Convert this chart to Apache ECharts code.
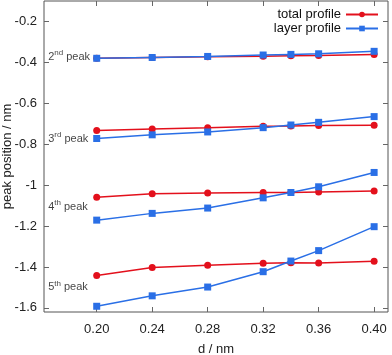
<!DOCTYPE html>
<html>
<head>
<meta charset="utf-8">
<title>peak position</title>
<script src="https://cdn.jsdelivr.net/npm/echarts@6/dist/echarts.min.js"></script>
<style>
  html, body { margin: 0; padding: 0; background: #fff; }
</style>
</head>
<body>
<div id="main" style="width: 392px; height: 355px;"></div>
<script type="text/javascript">
// data
var dValues = [0.20, 0.24, 0.28, 0.32, 0.34, 0.36, 0.40];
var xTicks = [0.20, 0.24, 0.28, 0.32, 0.36, 0.40];
var yTicks = [-1.6, -1.4, -1.2, -1.0, -0.8, -0.6, -0.4, -0.2];

var total2 = [-0.380, -0.376, -0.372, -0.370, -0.368, -0.366, -0.362];
var layer2 = [-0.380, -0.376, -0.371, -0.364, -0.361, -0.358, -0.346];
var total3 = [-0.733, -0.725, -0.719, -0.712, -0.711, -0.709, -0.707];
var layer3 = [-0.772, -0.754, -0.740, -0.719, -0.706, -0.693, -0.665];
var total4 = [-1.059, -1.042, -1.039, -1.036, -1.036, -1.033, -1.029];
var layer4 = [-1.171, -1.138, -1.112, -1.062, -1.036, -1.008, -0.938];
var total5 = [-1.442, -1.403, -1.392, -1.382, -1.379, -1.380, -1.372];
var layer5 = [-1.592, -1.541, -1.498, -1.423, -1.371, -1.320, -1.203];

var peakNames = ['2', '3', '4', '5'];
var peakSups = ['nd', 'rd', 'th', 'th'];
var peakLabelY = [-0.372, -0.773, -1.106, -1.500];

var RED = '#e3101c';
var BLUE = '#2a6fe6';

function pairs(ys) {
  var out = [];
  for (var i = 0; i < dValues.length; i++) out.push([dValues[i], ys[i]]);
  return out;
}

var myChart = echarts.init(document.getElementById('main'));

var series = [];
var totals = [total2, total3, total4, total5];
var layers = [layer2, layer3, layer4, layer5];
for (var k = 0; k < 4; k++) {
  series.push({
    name: 'total profile', type: 'line', data: pairs(totals[k]),
    symbol: 'circle', symbolSize: 7, lineStyle: { color: RED, width: 1.5 },
    itemStyle: { color: RED }, z: 2, animation: false
  });
  series.push({
    name: 'layer profile', type: 'line', data: pairs(layers[k]),
    symbol: 'rect', symbolSize: 7, lineStyle: { color: BLUE, width: 1.5 },
    itemStyle: { color: BLUE }, z: 3, animation: false
  });
}

// peak labels on the left
var labelData = [];
for (var j = 0; j < 4; j++) {
  labelData.push({
    value: [0.165, peakLabelY[j]],
    label: {
      formatter: '{n|' + peakNames[j] + '}{s|' + peakSups[j] + '}{n| peak}'
    }
  });
}
series.push({
  type: 'scatter', data: labelData, symbolSize: 0, silent: true,
  animation: false,
  label: {
    show: true, position: 'right', offset: [-5, 0],
    rich: {
      n: { fontFamily: 'Liberation Sans', fontSize: 11, color: '#111' },
      s: { fontFamily: 'Liberation Sans', fontSize: 8, color: '#111',
           verticalAlign: 'bottom', padding: [0, 0, 8, 0] }
    }
  }
});

myChart.setOption({
  animation: false,
  textStyle: { fontFamily: 'Liberation Sans' },
  grid: {
    left: 44, right: 4, top: 1, bottom: 43,
    outerBoundsMode: 'none',
    containLabel: false,
    show: true, borderColor: '#555', borderWidth: 1
  },
  legend: {
    data: ['total profile', 'layer profile'],
    orient: 'vertical', right: 8, top: 3, align: 'right',
    itemWidth: 32, itemHeight: 7, itemGap: 1,
    textStyle: { fontSize: 13, color: '#111', fontFamily: 'Liberation Sans' }
  },
  xAxis: [{
    type: 'value', min: 0.162, max: 0.41,
    name: 'd / nm', nameLocation: 'middle', nameGap: 31, nameMoveOverlap: false,
    nameTextStyle: { fontSize: 13, color: '#222' },
    axisLine: { show: false },
    splitLine: { show: false },
    axisTick: { inside: true, length: 5, lineStyle: { color: '#666' }, customValues: xTicks },
    axisLabel: {
      margin: 11, fontSize: 13, color: '#222', customValues: xTicks,
      formatter: function (v) { return v.toFixed(2); }
    }
  }, {
    type: 'value', position: 'top', min: 0.162, max: 0.41,
    axisLine: { show: false }, splitLine: { show: false },
    axisTick: { inside: true, length: 5, lineStyle: { color: '#666' }, customValues: xTicks },
    axisLabel: { show: false, customValues: xTicks }
  }],
  yAxis: [{
    type: 'value', min: -1.62, max: -0.1,
    name: 'peak position / nm', nameLocation: 'middle', nameGap: 30, nameMoveOverlap: false,
    nameTextStyle: { fontSize: 13, color: '#222' },
    axisLine: { show: false }, splitLine: { show: false },
    axisTick: { inside: true, length: 5, lineStyle: { color: '#666' }, customValues: yTicks },
    axisLabel: {
      margin: 7, fontSize: 13, color: '#222', customValues: yTicks,
      formatter: function (v) { return String(Math.round(v * 10) / 10); }
    }
  }, {
    type: 'value', position: 'right', min: -1.62, max: -0.1,
    axisLine: { show: false }, splitLine: { show: false },
    axisTick: { inside: true, length: 5, lineStyle: { color: '#666' }, customValues: yTicks },
    axisLabel: { show: false, customValues: yTicks }
  }],
  series: series
});
</script>
</body>
</html>
